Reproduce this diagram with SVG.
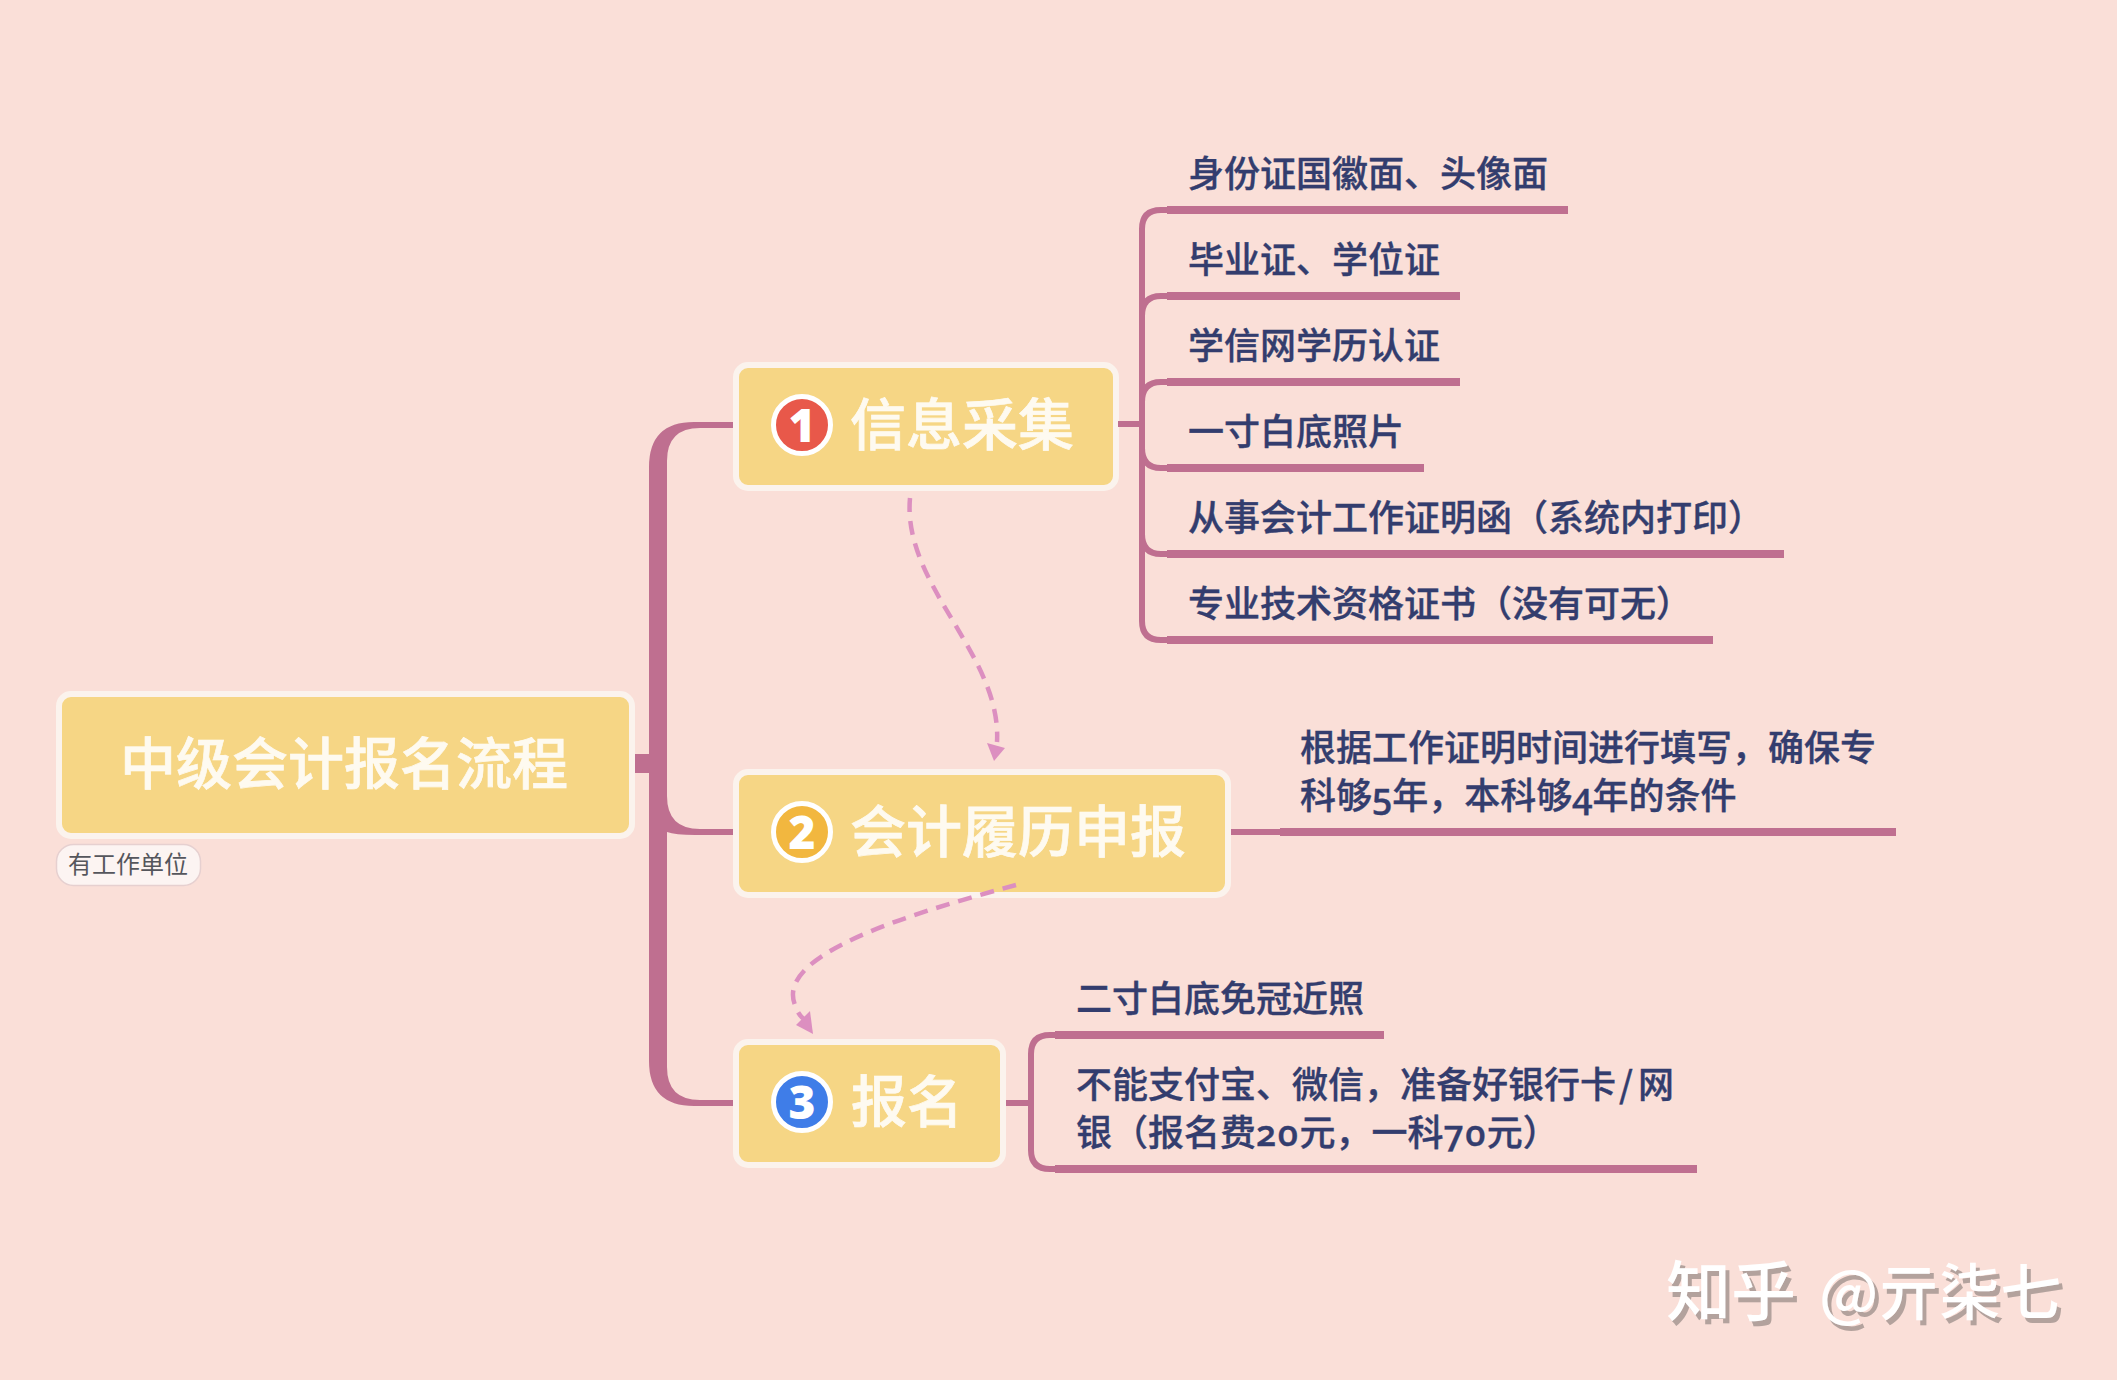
<svg xmlns="http://www.w3.org/2000/svg" width="2117" height="1380" viewBox="0 0 2117 1380">
<style>
text{font-family:"Noto Sans CJK SC","Noto Sans",sans-serif}
.box{fill:#f6d685;stroke:#fbf3ed;stroke-width:6}
.big{font-size:56px;font-weight:500;fill:#fefaf0;stroke:#fefaf0;stroke-width:.7}
.leaf{font-size:36px;font-weight:500;fill:#333d6e;stroke:#333d6e;stroke-width:.35}
.thin{fill:none;stroke:#bf6f90;stroke-width:6}
.thick{fill:none;stroke:#bf6f90;stroke-width:8}
.dash{fill:none;stroke:#dc8fc0;stroke-width:4.500;stroke-dasharray:14 9}
.num{font-family:"Open Sans","Noto Sans CJK SC",sans-serif;font-weight:800;font-size:46px;fill:#fff;text-anchor:middle}
.old{font-family:"Open Sans","Noto Sans CJK SC",sans-serif;font-variant-numeric:oldstyle-nums;font-weight:600}
.wide{letter-spacing:1.500px}
.ring{stroke:#fff;stroke-width:5}
</style>
<defs>
<filter id="sh" x="-5%" y="-20%" width="110%" height="140%"><feDropShadow dx="4" dy="5" stdDeviation="0.6" flood-color="#b3a29d" flood-opacity="1"/></filter>
</defs>
<rect width="2117" height="1380" fill="#fadfd8"/>
<g id="root">
<rect class="box" x="59" y="694" width="573" height="142" rx="12"/>
<text class="big" x="344" y="784" text-anchor="middle">中级会计报名流程</text>
</g>
<g id="note">
<rect x="56.500" y="844.500" width="144" height="41" rx="17" fill="#fcf4f2" stroke="#e6d0d0" stroke-width="1.500"/>
<text x="128" y="873" text-anchor="middle" font-size="24" fill="#55565c">有工作单位</text>
</g>
<g id="node1">
<rect class="box" x="736" y="365" width="380" height="123" rx="12"/>
<circle class="ring" cx="802" cy="425" r="28.500" fill="#e8584a"/>
<text class="num" x="802" y="441.500">1</text>
<text class="big" x="850" y="445">信息采集</text>
</g>
<g id="node2">
<rect class="box" x="736" y="772" width="492" height="123" rx="12"/>
<circle class="ring" cx="802" cy="832" r="28.500" fill="#f2b73f"/>
<text class="num" x="802" y="848.500">2</text>
<text class="big" x="850" y="852">会计履历申报</text>
</g>
<g id="node3">
<rect class="box" x="736" y="1042" width="267" height="123" rx="12"/>
<circle class="ring" cx="802" cy="1102" r="28.500" fill="#3f7de8"/>
<text class="num" x="802" y="1118.500">3</text>
<text class="big" x="851" y="1122">报名</text>
</g>
<g id="leaf1"><text class="leaf" x="1188" y="187">身份证国徽面、头像面</text></g>
<g id="leaf2"><text class="leaf" x="1188" y="273">毕业证、学位证</text></g>
<g id="leaf3"><text class="leaf" x="1188" y="359">学信网学历认证</text></g>
<g id="leaf4"><text class="leaf" x="1188" y="445">一寸白底照片</text></g>
<g id="leaf5"><text class="leaf" x="1188" y="531">从事会计工作证明函（系统内打印）</text></g>
<g id="leaf6"><text class="leaf" x="1188" y="617">专业技术资格证书（没有可无）</text></g>
<g id="leaf7"><text class="leaf" x="1300" y="761">根据工作证明时间进行填写，确保专</text><text class="leaf" x="1300" y="809">科够<tspan class="old">5</tspan>年，本科够<tspan class="old">4</tspan>年的条件</text></g>
<g id="leaf8"><text class="leaf" x="1076" y="1012">二寸白底免冠近照</text></g>
<g id="leaf9"><text class="leaf" x="1076" y="1098">不能支付宝、微信，准备好银行卡<tspan dx="3">/</tspan><tspan dx="5">网</tspan></text><text class="leaf" x="1076" y="1146">银（报名费<tspan class="old wide">20</tspan>元，一科<tspan class="old wide">70</tspan>元）</text></g>
<text x="1666" y="1315" font-size="65" font-weight="500" fill="#fff" filter="url(#sh)">知乎 <tspan x="1819" font-size="61">@亓柒七</tspan></text>
<g id="connectors">
<rect x="635" y="754" width="16" height="19" fill="#bf6f90"/>
<path fill="#bf6f90" d="M733 422H694Q649 422 649 467V1061Q649 1106 694 1106H733V1100H700Q667 1100 667 1067V832Q675 835 695 835H733V829H700Q667 829 667 796V461Q667 428 700 428H733Z"/>
<path class="thin" d="M1118 424H1142M1167 210H1161Q1142 210 1142 229V621Q1142 640 1161 640H1167M1142 316Q1142 296 1161 296H1167M1142 402Q1142 382 1161 382H1167M1142 448Q1142 468 1161 468H1167M1142 534Q1142 554 1161 554H1167"/>
<path class="thick" d="M1167 210H1568M1167 296H1460M1167 382H1460M1167 468H1424M1167 554H1784M1167 640H1713"/>
<path class="thin" d="M1231 832H1282"/>
<path class="thick" d="M1280 832H1896M1055 1035H1384M1055 1169H1697"/>
<path class="thin" d="M1006 1103H1031M1055 1035H1050Q1031 1035 1031 1054V1150Q1031 1169 1050 1169H1055"/>
<path class="dash" d="M910 498C902 585 1002 655 997 742"/>
<polygon points="987,743 1005,748 994,761" fill="#dc8fc0"/>
<path class="dash" d="M1016 885C905 915 775 955 795 1005Q798 1015 804 1019"/>
<polygon points="796,1025 810,1011 813,1034" fill="#dc8fc0"/>
</g>
</svg>
